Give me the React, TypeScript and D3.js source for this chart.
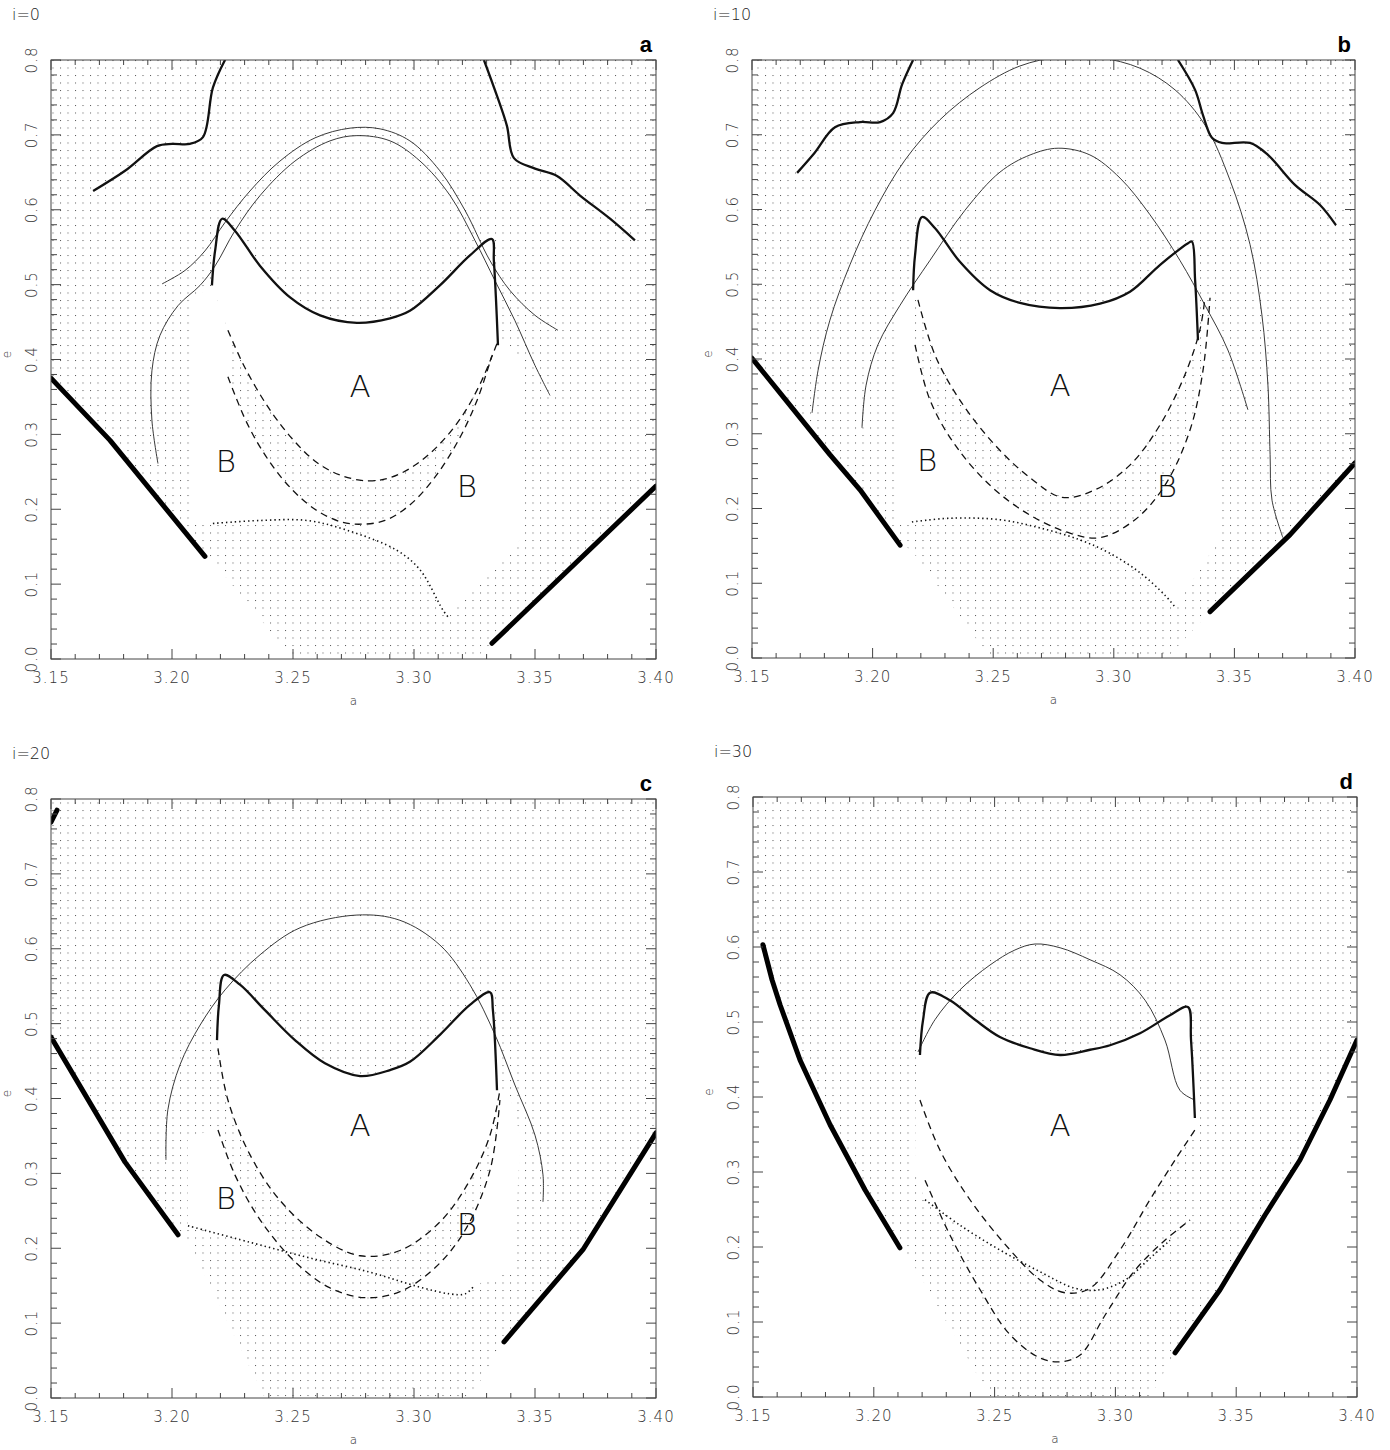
import React from "react";
import * as d3 from "d3";

type Pt = [number, number];

// ---- panel a (i=0) ----
const a_boldTopLeft: Pt[] = [[3.1674, 0.625], [3.1806, 0.652], [3.1938, 0.685], [3.2, 0.688], [3.2074, 0.688], [3.2128, 0.697], [3.2169, 0.763], [3.2219, 0.8]];
const a_boldTopRight: Pt[] = [[3.3289, 0.8], [3.3343, 0.752], [3.3384, 0.712], [3.3413, 0.669], [3.35, 0.655], [3.3591, 0.645], [3.3686, 0.619], [3.381, 0.588], [3.3913, 0.559]];
const a_thickLeft: Pt[] = [[3.15, 0.375], [3.1744, 0.292], [3.2136, 0.137]];
const a_thickRight: Pt[] = [[3.3322, 0.021], [3.4, 0.231]];
const a_boldMid: Pt[] = [[3.2165, 0.499], [3.2178, 0.545], [3.2207, 0.588], [3.226, 0.572], [3.2364, 0.525], [3.2488, 0.483], [3.2612, 0.459], [3.2764, 0.449], [3.2901, 0.455], [3.2983, 0.465], [3.3107, 0.499], [3.3231, 0.539], [3.3322, 0.561], [3.333, 0.532], [3.3339, 0.479], [3.3347, 0.419]];
const a_thinOuter: Pt[] = [[3.1959, 0.501], [3.2054, 0.519], [3.2136, 0.545], [3.2219, 0.583], [3.2322, 0.625], [3.2446, 0.665], [3.2591, 0.696], [3.2736, 0.709], [3.286, 0.708], [3.2983, 0.692], [3.3107, 0.652], [3.3211, 0.599], [3.3314, 0.532], [3.3397, 0.492], [3.35, 0.459], [3.3595, 0.439]];
const a_thinInner: Pt[] = [[3.1942, 0.261], [3.1917, 0.319], [3.1917, 0.385], [3.195, 0.432], [3.2025, 0.472], [3.2116, 0.499], [3.2178, 0.525], [3.226, 0.572], [3.2364, 0.619], [3.2508, 0.665], [3.2653, 0.692], [3.2764, 0.699], [3.2901, 0.692], [3.3025, 0.665], [3.3149, 0.619], [3.3252, 0.559], [3.3335, 0.505], [3.3417, 0.452], [3.35, 0.392], [3.3562, 0.352]];
const a_dashUpper: Pt[] = [[3.2231, 0.439], [3.23, 0.39], [3.24, 0.335], [3.25, 0.293], [3.26, 0.262], [3.27, 0.245], [3.2806, 0.238], [3.29, 0.242], [3.3, 0.258], [3.31, 0.285], [3.32, 0.325], [3.328, 0.372], [3.3347, 0.425]];
const a_dashLower: Pt[] = [[3.2231, 0.377], [3.231, 0.315], [3.24, 0.265], [3.25, 0.225], [3.26, 0.198], [3.27, 0.183], [3.278, 0.18], [3.288, 0.185], [3.298, 0.205], [3.308, 0.24], [3.318, 0.29], [3.326, 0.345], [3.3322, 0.405]];
const a_dotted: Pt[] = [[3.2169, 0.181], [3.2364, 0.185], [3.2558, 0.185], [3.2723, 0.172], [3.293, 0.145], [3.3025, 0.119], [3.312, 0.065], [3.3141, 0.056]];
const a_whiteLL: Pt[] = [[3.15, 0.375], [3.1744, 0.292], [3.2136, 0.137], [3.217, 0.13], [3.25, 0], [3.15, 0]];
const a_whiteBL: Pt[] = [[3.2083, 0.48], [3.2165, 0.499], [3.2231, 0.439], [3.2231, 0.377], [3.231, 0.315], [3.24, 0.265], [3.25, 0.225], [3.26, 0.198], [3.268, 0.184], [3.2558, 0.185], [3.2364, 0.185], [3.2169, 0.181], [3.2083, 0.181]];
const a_whiteBR: Pt[] = [[3.3322, 0.405], [3.326, 0.345], [3.318, 0.29], [3.308, 0.24], [3.298, 0.205], [3.288, 0.185], [3.278, 0.176], [3.293, 0.145], [3.3025, 0.119], [3.312, 0.065], [3.3141, 0.056], [3.344, 0.16], [3.345, 0.4], [3.337, 0.425]];
const a_whiteLR: Pt[] = [[3.325, 0], [3.3322, 0.021], [3.4, 0.231], [3.4, 0]];

// ---- panel b (i=10) ----
const b_boldTopLeft: Pt[] = [[3.1687, 0.649], [3.176, 0.676], [3.1844, 0.71], [3.1948, 0.717], [3.2031, 0.717], [3.2085, 0.729], [3.2122, 0.767], [3.2168, 0.8]];
const b_boldTopRight: Pt[] = [[3.3266, 0.8], [3.3337, 0.76], [3.337, 0.726], [3.3407, 0.696], [3.3449, 0.689], [3.3565, 0.689], [3.3639, 0.673], [3.3751, 0.633], [3.3855, 0.606], [3.3921, 0.579]];
const b_thickLeft: Pt[] = [[3.15, 0.401], [3.1658, 0.338], [3.1823, 0.272], [3.1948, 0.225], [3.2114, 0.151]];
const b_thickRight: Pt[] = [[3.3399, 0.062], [3.3731, 0.165], [3.4, 0.261]];
const b_boldMid: Pt[] = [[3.2168, 0.492], [3.2176, 0.539], [3.2205, 0.59], [3.2259, 0.575], [3.2362, 0.53], [3.2487, 0.492], [3.2611, 0.475], [3.2777, 0.468], [3.2943, 0.474], [3.3067, 0.49], [3.3192, 0.526], [3.3308, 0.555], [3.3324, 0.557], [3.3337, 0.506], [3.3349, 0.425]];
const b_thinOuter: Pt[] = [[3.1749, 0.328], [3.1774, 0.385], [3.1823, 0.452], [3.1906, 0.526], [3.201, 0.599], [3.2134, 0.666], [3.2279, 0.72], [3.2445, 0.763], [3.2611, 0.792], [3.2777, 0.804], [3.2943, 0.803], [3.3109, 0.789], [3.3254, 0.76], [3.3378, 0.713], [3.3482, 0.639], [3.3565, 0.553], [3.3614, 0.459], [3.3639, 0.365], [3.3648, 0.272], [3.3656, 0.211], [3.3701, 0.161]];
const b_thinInner: Pt[] = [[3.1956, 0.308], [3.1973, 0.365], [3.2022, 0.419], [3.2114, 0.472], [3.2238, 0.532], [3.2383, 0.599], [3.2528, 0.65], [3.2653, 0.673], [3.2769, 0.682], [3.2901, 0.673], [3.3026, 0.642], [3.315, 0.593], [3.3274, 0.532], [3.3378, 0.472], [3.3473, 0.412], [3.3556, 0.332]];
const b_dashUpper: Pt[] = [[3.2188, 0.479], [3.2259, 0.405], [3.2362, 0.345], [3.2507, 0.285], [3.2653, 0.241], [3.2785, 0.215], [3.2922, 0.225], [3.3067, 0.258], [3.3192, 0.312], [3.3295, 0.379], [3.3357, 0.439], [3.3378, 0.482]];
const b_dashLower: Pt[] = [[3.2176, 0.419], [3.2238, 0.345], [3.2342, 0.285], [3.2487, 0.231], [3.2653, 0.191], [3.2818, 0.167], [3.2943, 0.161], [3.3088, 0.185], [3.3212, 0.231], [3.3316, 0.305], [3.337, 0.385], [3.3399, 0.482]];
const b_dotted: Pt[] = [[3.2163, 0.182], [3.2321, 0.187], [3.2528, 0.185], [3.2694, 0.174], [3.286, 0.158], [3.2984, 0.14], [3.3109, 0.114], [3.3212, 0.084], [3.3254, 0.068]];
const b_whiteLL: Pt[] = [[3.15, 0.401], [3.1658, 0.338], [3.1823, 0.272], [3.1948, 0.225], [3.2114, 0.151], [3.216, 0.145], [3.2487, 0], [3.15, 0]];
const b_whiteBL: Pt[] = [[3.2093, 0.49], [3.2168, 0.492], [3.2176, 0.419], [3.2238, 0.345], [3.2342, 0.285], [3.2487, 0.231], [3.2653, 0.191], [3.27, 0.178], [3.2528, 0.185], [3.2321, 0.187], [3.2163, 0.182], [3.2093, 0.182]];
const b_whiteBR: Pt[] = [[3.337, 0.385], [3.3316, 0.305], [3.3212, 0.231], [3.3088, 0.185], [3.2943, 0.161], [3.2984, 0.14], [3.3109, 0.114], [3.3212, 0.084], [3.3254, 0.068], [3.344, 0.16], [3.345, 0.45], [3.34, 0.47]];
const b_whiteLR: Pt[] = [[3.322, 0], [3.3399, 0.062], [3.3731, 0.165], [3.4, 0.261], [3.4, 0]];

// ---- panel c (i=20) ----
const c_boldCorner: Pt[] = [[3.15, 0.769], [3.1525, 0.785]];
const c_thickLeft: Pt[] = [[3.15, 0.482], [3.1806, 0.315], [3.2025, 0.218]];
const c_thickRight: Pt[] = [[3.3372, 0.075], [3.3698, 0.198], [3.4, 0.354]];
const c_boldMid: Pt[] = [[3.2186, 0.478], [3.2194, 0.525], [3.2215, 0.565], [3.2281, 0.552], [3.2384, 0.518], [3.2508, 0.478], [3.2632, 0.447], [3.2777, 0.43], [3.2901, 0.438], [3.2983, 0.449], [3.3107, 0.485], [3.3231, 0.525], [3.3314, 0.542], [3.3326, 0.518], [3.3343, 0.411]];
const c_thin: Pt[] = [[3.1975, 0.318], [3.1983, 0.385], [3.2033, 0.445], [3.2116, 0.498], [3.2219, 0.545], [3.2364, 0.592], [3.2529, 0.628], [3.2764, 0.645], [3.2942, 0.638], [3.3107, 0.605], [3.3231, 0.552], [3.3335, 0.485], [3.3417, 0.418], [3.35, 0.351], [3.3533, 0.298], [3.3533, 0.262]];
const c_dashUpper: Pt[] = [[3.219, 0.467], [3.2231, 0.398], [3.2322, 0.325], [3.2446, 0.264], [3.2612, 0.215], [3.2777, 0.19], [3.2942, 0.197], [3.3107, 0.235], [3.3231, 0.291], [3.3314, 0.351], [3.3355, 0.411]];
const c_dashLower: Pt[] = [[3.219, 0.358], [3.226, 0.298], [3.2364, 0.238], [3.2508, 0.182], [3.2653, 0.147], [3.2797, 0.134], [3.2942, 0.142], [3.3087, 0.174], [3.3211, 0.224], [3.3314, 0.304], [3.3355, 0.398]];
const c_dotted: Pt[] = [[3.2066, 0.23], [3.2322, 0.208], [3.257, 0.187], [3.2818, 0.168], [3.3025, 0.148], [3.3149, 0.139], [3.3211, 0.139], [3.3252, 0.151]];
const c_whiteLL: Pt[] = [[3.15, 0.482], [3.1806, 0.315], [3.2025, 0.218], [3.206, 0.212], [3.2384, 0], [3.15, 0]];
const c_whiteBL: Pt[] = [[3.2066, 0.35], [3.219, 0.358], [3.226, 0.298], [3.2364, 0.238], [3.248, 0.194], [3.2322, 0.208], [3.2066, 0.23]];
const c_whiteBR: Pt[] = [[3.3355, 0.398], [3.3314, 0.304], [3.3211, 0.224], [3.3087, 0.174], [3.301, 0.152], [3.3149, 0.139], [3.3211, 0.139], [3.3252, 0.151], [3.341, 0.17], [3.344, 0.35], [3.338, 0.42]];
const c_whiteLR: Pt[] = [[3.323, 0], [3.3372, 0.075], [3.3698, 0.198], [3.4, 0.354], [3.4, 0]];

// ---- panel d (i=30) ----
const d_thickLeft: Pt[] = [[3.1541, 0.603], [3.1579, 0.556], [3.1612, 0.523], [3.1695, 0.449], [3.1819, 0.363], [3.1964, 0.276], [3.2108, 0.199]];
const d_thickRight: Pt[] = [[3.3247, 0.059], [3.3433, 0.143], [3.362, 0.243], [3.3764, 0.316], [3.3888, 0.396], [3.4, 0.476]];
const d_boldMid: Pt[] = [[3.2191, 0.456], [3.2204, 0.503], [3.2233, 0.539], [3.2315, 0.529], [3.2419, 0.503], [3.2522, 0.48], [3.2647, 0.465], [3.2771, 0.456], [3.2895, 0.463], [3.2978, 0.469], [3.3102, 0.485], [3.3226, 0.509], [3.33, 0.52], [3.3313, 0.476], [3.3329, 0.372]];
const d_thin: Pt[] = [[3.2183, 0.46], [3.2253, 0.503], [3.2357, 0.543], [3.2481, 0.576], [3.2584, 0.596], [3.2667, 0.604], [3.2771, 0.599], [3.2895, 0.583], [3.3019, 0.563], [3.3123, 0.529], [3.3205, 0.476], [3.3267, 0.409], [3.3329, 0.396]];
const d_dashUpper: Pt[] = [[3.2191, 0.396], [3.2274, 0.329], [3.2398, 0.263], [3.2564, 0.196], [3.2688, 0.156], [3.2791, 0.139], [3.2895, 0.145], [3.3019, 0.196], [3.3143, 0.263], [3.3247, 0.316], [3.3329, 0.356]];
const d_dashLower: Pt[] = [[3.2212, 0.289], [3.2315, 0.216], [3.244, 0.143], [3.2564, 0.083], [3.2688, 0.052], [3.2771, 0.047], [3.2854, 0.056], [3.2957, 0.109], [3.3081, 0.169], [3.3205, 0.209], [3.3309, 0.236]];
const d_dotted: Pt[] = [[3.2212, 0.263], [3.2357, 0.229], [3.2522, 0.196], [3.2688, 0.167], [3.2833, 0.145], [3.2936, 0.143], [3.304, 0.156], [3.3143, 0.185], [3.3226, 0.209]];
const d_whiteLL: Pt[] = [[3.15, 0.61], [3.1541, 0.603], [3.1579, 0.556], [3.1612, 0.523], [3.1695, 0.449], [3.1819, 0.363], [3.1964, 0.276], [3.2108, 0.199], [3.214, 0.19], [3.2481, 0], [3.15, 0]];
const d_whiteAbelow: Pt[] = [[3.3329, 0.356], [3.3247, 0.316], [3.3143, 0.263], [3.3019, 0.196], [3.2895, 0.145], [3.2833, 0.145], [3.2688, 0.167], [3.2522, 0.196], [3.2357, 0.229], [3.2212, 0.263], [3.217, 0.3], [3.2175, 0.44]];
const d_whiteLR: Pt[] = [[3.3143, 0], [3.3247, 0.059], [3.3433, 0.143], [3.362, 0.243], [3.3764, 0.316], [3.3888, 0.396], [3.4, 0.476], [3.4, 0]];

// region letters: [text, a, e]
const a_letters: [string, number, number][] = [["A", 3.2777, 0.365], ["B", 3.2223, 0.265], ["B", 3.3219, 0.231]];
const b_letters: [string, number, number][] = [["A", 3.2777, 0.365], ["B", 3.2226, 0.265], ["B", 3.322, 0.23]];
const c_letters: [string, number, number][] = [["A", 3.2777, 0.365], ["B", 3.2223, 0.267], ["B", 3.3219, 0.232]];
const d_letters: [string, number, number][] = [["A", 3.2771, 0.363]];

const xMajor = d3.range(0, 6).map((i) => 3.15 + i * 0.05);
const xMinor = d3.range(0, 26).map((i) => 3.15 + i * 0.01);
const yMajor = d3.range(0, 9).map((i) => i * 0.1);
const yMinor = d3.range(0, 41).map((i) => i * 0.02);

const rev = (arr: Pt[]) => arr.slice().reverse();

const panels = [
  {
    key: "a", title: "i=0", letter: "a", left: 51, top: 60, w: 605, h: 599,
    whites: [a_whiteLL, [...a_boldMid, ...rev(a_dashUpper)], a_whiteBL, a_whiteBR, a_whiteLR],
    bold: [a_boldTopLeft, a_boldTopRight, a_boldMid],
    thick: [a_thickLeft, a_thickRight],
    thin: [a_thinOuter, a_thinInner],
    dash: [a_dashUpper, a_dashLower],
    dot: [a_dotted],
    letters: a_letters,
  },
  {
    key: "b", title: "i=10", letter: "b", left: 752, top: 60, w: 603, h: 598,
    whites: [b_whiteLL, [...b_boldMid, ...rev(b_dashUpper)], b_whiteBL, b_whiteBR, b_whiteLR],
    bold: [b_boldTopLeft, b_boldTopRight, b_boldMid],
    thick: [b_thickLeft, b_thickRight],
    thin: [b_thinOuter, b_thinInner],
    dash: [b_dashUpper, b_dashLower],
    dot: [b_dotted],
    letters: b_letters,
  },
  {
    key: "c", title: "i=20", letter: "c", left: 51, top: 799, w: 605, h: 599,
    whites: [c_whiteLL, [...c_boldMid, ...rev(c_dashUpper)], c_whiteBL, c_whiteBR, c_whiteLR],
    bold: [c_boldMid],
    thick: [c_thickLeft, c_thickRight, c_boldCorner],
    thin: [c_thin],
    dash: [c_dashUpper, c_dashLower],
    dot: [c_dotted],
    letters: c_letters,
  },
  {
    key: "d", title: "i=30", letter: "d", left: 753, top: 797, w: 604, h: 600,
    whites: [d_whiteLL, [...d_boldMid, ...d_whiteAbelow], d_whiteLR],
    bold: [d_boldMid],
    thick: [d_thickLeft, d_thickRight],
    thin: [d_thin],
    dash: [d_dashUpper, d_dashLower],
    dot: [d_dotted],
    letters: d_letters,
  },
];

const FONT = "'DejaVu Sans', sans-serif";
const INK = "#111";

function Panel({ p }: { p: any }) {
  const x = d3.scaleLinear().domain([3.15, 3.4]).range([p.left, p.left + p.w]);
  const y = d3.scaleLinear().domain([0, 0.8]).range([p.top + p.h, p.top]);
  const smooth = d3.line<Pt>().x((d) => x(d[0])).y((d) => y(d[1])).curve(d3.curveCatmullRom.alpha(0.5));
  const straight = d3.line<Pt>().x((d) => x(d[0])).y((d) => y(d[1]));
  const closed = d3.line<Pt>().x((d) => x(d[0])).y((d) => y(d[1])).curve(d3.curveLinearClosed);
  const clipId = "clip-" + p.key;
  const x0 = p.left, x1 = p.left + p.w, y0 = p.top, y1 = p.top + p.h;
  const fx = d3.format(".2f");
  const fy = d3.format(".1f");
  const isMajX = (v: number) => xMajor.some((m) => Math.abs(m - v) < 1e-6);
  const isMajY = (v: number) => yMajor.some((m) => Math.abs(m - v) < 1e-6);

  return (
    <g>
      <clipPath id={clipId}>
        <rect x={x0} y={y0} width={p.w} height={p.h} />
      </clipPath>
      <g clipPath={`url(#${clipId})`}>
        <rect x={x0} y={y0} width={p.w} height={p.h} fill="url(#stip)" />
        {p.whites.map((r: Pt[], i: number) => (
          <path key={"w" + i} d={closed(r) || ""} fill="#fff" stroke="none" />
        ))}
        {p.thin.map((l: Pt[], i: number) => (
          <path key={"t" + i} d={smooth(l) || ""} fill="none" stroke="#222" strokeWidth={0.9} />
        ))}
        {p.dash.map((l: Pt[], i: number) => (
          <path key={"da" + i} d={smooth(l) || ""} fill="none" stroke={INK} strokeWidth={1.3} strokeDasharray="7,5" />
        ))}
        {p.dot.map((l: Pt[], i: number) => (
          <path key={"do" + i} d={smooth(l) || ""} fill="none" stroke={INK} strokeWidth={1.6} strokeDasharray="1.4,3" />
        ))}
        {p.bold.map((l: Pt[], i: number) => (
          <path key={"b" + i} d={smooth(l) || ""} fill="none" stroke={INK} strokeWidth={2.3} strokeLinejoin="round" />
        ))}
        {p.thick.map((l: Pt[], i: number) => (
          <path key={"k" + i} d={straight(l) || ""} fill="none" stroke="#000" strokeWidth={5} strokeLinecap="round" strokeLinejoin="round" />
        ))}
      </g>
      <rect x={x0} y={y0} width={p.w} height={p.h} fill="none" stroke="#444" strokeWidth={1} />
      {xMinor.map((v) => {
        const len = isMajX(v) ? 10 : 5;
        return (
          <g key={"xt" + v}>
            <line x1={x(v)} x2={x(v)} y1={y1} y2={y1 - len} stroke="#444" />
            <line x1={x(v)} x2={x(v)} y1={y0} y2={y0 + len} stroke="#444" />
          </g>
        );
      })}
      {yMinor.map((v) => {
        const len = isMajY(v) ? 10 : 6;
        return (
          <g key={"yt" + v}>
            <line x1={x0} x2={x0 + len} y1={y(v)} y2={y(v)} stroke="#444" />
            <line x1={x1} x2={x1 - len} y1={y(v)} y2={y(v)} stroke="#444" />
          </g>
        );
      })}
      {xMajor.map((v) => (
        <text key={"xl" + v} x={x(v)} y={y1 + 24} textAnchor="middle" fontSize={15} fontFamily={FONT} fontWeight={200} fill="#333" letterSpacing={1}>
          {fx(v)}
        </text>
      ))}
      {yMajor.map((v) => (
        <text key={"yl" + v} transform={`translate(${x0 - 14},${y(v)}) rotate(-90)`} textAnchor="middle" fontSize={15} fontFamily={FONT} fontWeight={200} fill="#333" letterSpacing={1}>
          {fy(v)}
        </text>
      ))}
      <text x={(x0 + x1) / 2} y={y1 + 46} textAnchor="middle" fontSize={12} fontFamily={FONT} fontWeight={200} fill="#333">a</text>
      <text transform={`translate(${x0 - 40},${(y0 + y1) / 2 - 5}) rotate(-90)`} textAnchor="middle" fontSize={12} fontFamily={FONT} fontWeight={200} fill="#333">e</text>
      <text x={x0 - 39} y={y0 - 40} fontSize={16} fontFamily={FONT} fontWeight={200} fill="#222">{p.title}</text>
      <text x={x1 - 4} y={y0 - 8} textAnchor="end" fontSize={22} fontFamily="'Liberation Sans', Arial, sans-serif" fontWeight={700} fill="#000">{p.letter}</text>
      {p.letters.map(([t, a, e]: [string, number, number], i: number) => (
        <text key={"L" + i} x={x(a)} y={y(e)} dy="0.36em" textAnchor="middle" fontSize={31} fontFamily={FONT} fontWeight={200} fill="#111">
          {t}
        </text>
      ))}
    </g>
  );
}

export default function App() {
  return (
    <svg width={1390} height={1450} style={{ display: "block", background: "#fff", position: "absolute", left: 0, top: 0 }}>
      <defs>
        <pattern id="stip" width={7.5} height={7.5} patternUnits="userSpaceOnUse">
          <rect x={0} y={0} width={1} height={1} fill="#555" />
        </pattern>
      </defs>
      <rect x={0} y={0} width={1390} height={1450} fill="#fff" />
      {panels.map((p) => (
        <Panel key={p.key} p={p} />
      ))}
    </svg>
  );
}
